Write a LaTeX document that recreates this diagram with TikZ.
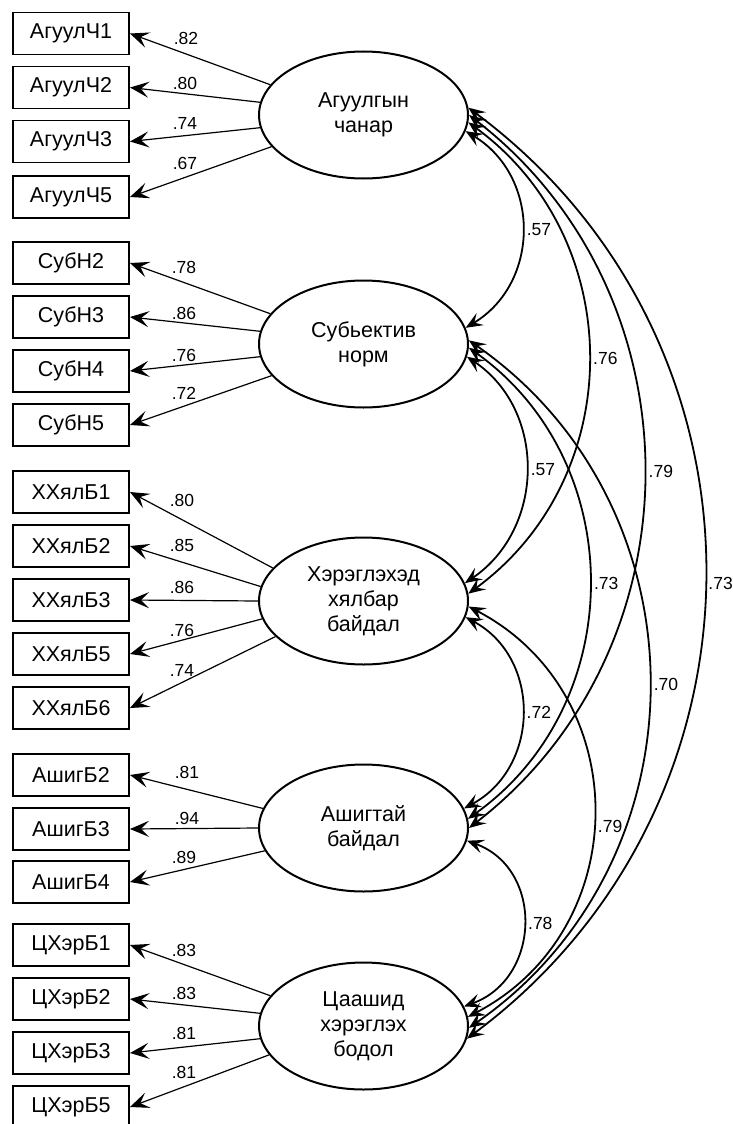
\documentclass[tikz,border=0pt]{standalone}
\usepackage{fontspec}
\setmainfont{Liberation Sans}
\usetikzlibrary{arrows.meta,calc,shapes.geometric}
\begin{document}
\begin{tikzpicture}[x=1pt,y=-1pt,
  obs/.style={draw, line width=1.9pt, minimum width=116pt, minimum height=42pt, inner sep=0pt, font=\fontsize{21.5}{25}\selectfont},
  lat/.style={draw, ellipse, line width=2pt, minimum width=209pt, minimum height=127pt, inner sep=0pt, align=center, font=\fontsize{21.5}{25}\selectfont},
  load/.style={line width=1.2pt, -{Stealth[length=19pt,width=16pt,inset=8pt]}},
  cov/.style={line width=1.8pt, {Stealth[length=17pt,width=14pt,inset=7pt]}-{Stealth[length=17pt,width=14pt,inset=7pt]}},
  lab/.style={font=\fontsize{17.5}{19}\selectfont, inner sep=0pt},
  clab/.style={font=\fontsize{17.5}{19}\selectfont, inner sep=4pt, anchor=west}
]
\fill[white] (0,0) rectangle (732,1124);
\useasboundingbox (0,0) rectangle (732,1124);

% latent variables
\node[lat] (e1) at (363.5,115) {Агуулгын\\чанар};
\node[lat] (e2) at (363.5,344) {Субьектив\\норм};
\node[lat] (e3) at (363.5,601) {Хэрэглэхэд\\хялбар\\байдал};
\node[lat] (e4) at (363.5,828) {Ашигтай\\байдал};
\node[lat] (e5) at (363.5,1026) {Цаашид\\хэрэглэх\\бодол};

% observed variables
\node[obs] (b11) at (71,33.5) {АгуулЧ1};
\node[obs] (b12) at (71,87.5) {АгуулЧ2};
\node[obs] (b13) at (71,141.5) {АгуулЧ3};
\node[obs] (b14) at (71,197) {АгуулЧ5};

\node[obs] (b21) at (71,263) {СубН2};
\node[obs] (b22) at (71,317) {СубН3};
\node[obs] (b23) at (71,371) {СубН4};
\node[obs] (b24) at (71,425) {СубН5};

\node[obs] (b31) at (71,492) {ХХялБ1};
\node[obs] (b32) at (71,546) {ХХялБ2};
\node[obs] (b33) at (71,600) {ХХялБ3};
\node[obs] (b34) at (71,654) {ХХялБ5};
\node[obs] (b35) at (71,708) {ХХялБ6};

\node[obs] (b41) at (71,775) {АшигБ2};
\node[obs] (b42) at (71,829) {АшигБ3};
\node[obs] (b43) at (71,882) {АшигБ4};

\node[obs] (b51) at (71,945) {ЦХэрБ1};
\node[obs] (b52) at (71,999) {ЦХэрБ2};
\node[obs] (b53) at (71,1053) {ЦХэрБ3};
\node[obs] (b54) at (71,1107) {ЦХэрБ5};

% loadings
\draw[load] (e1.162) -- (b11.east);
\draw[load] (e1.173) -- (b12.east);
\draw[load] (e1.187) -- (b13.east);
\draw[load] (e1.199) -- (b14.east);
\node[lab] (l11) at ($(b11.east)+(56,4.5)$) {.82};
\node[lab] (l12) at ($(b12.east)+(55,-4.5)$) {.80};
\node[lab] (l13) at ($(b13.east)+(55,-18.5)$) {.74};
\node[lab] (l14) at ($(b14.east)+(55,-34)$) {.67};

\draw[load] (e2.162) -- (b21.east);
\draw[load] (e2.173) -- (b22.east);
\draw[load] (e2.187) -- (b23.east);
\draw[load] (e2.199) -- (b24.east);
\node[lab] (l21) at ($(b21.east)+(54,4)$) {.78};
\node[lab] (l22) at ($(b22.east)+(54,-4)$) {.86};
\node[lab] (l23) at ($(b23.east)+(54,-16)$) {.76};
\node[lab] (l24) at ($(b24.east)+(54,-32)$) {.72};

\draw[load] (e3.160) -- (b31.east);
\draw[load] (e3.172) -- (b32.east);
\draw[load] (e3.180) -- (b33.east);
\draw[load] (e3.190) -- (b34.east);
\draw[load] (e3.202) -- (b35.east);
\node[lab] (l31) at ($(b31.east)+(52,8)$) {.80};
\node[lab] (l32) at ($(b32.east)+(52,-1)$) {.85};
\node[lab] (l33) at ($(b33.east)+(52,-13)$) {.86};
\node[lab] (l34) at ($(b34.east)+(52,-24)$) {.76};
\node[lab] (l35) at ($(b35.east)+(52,-38)$) {.74};

\draw[load] (e4.169) -- (b41.east);
\draw[load] (e4.180) -- (b42.east);
\draw[load] (e4.193) -- (b43.east);
\node[lab] (l41) at ($(b41.east)+(57,-3)$) {.81};
\node[lab] (l42) at ($(b42.east)+(57,-11)$) {.94};
\node[lab] (l43) at ($(b43.east)+(54,-25)$) {.89};

\draw[load] (e5.162) -- (b51.east);
\draw[load] (e5.173) -- (b52.east);
\draw[load] (e5.187) -- (b53.east);
\draw[load] (e5.197) -- (b54.east);
\node[lab] (l51) at ($(b51.east)+(54,5)$) {.83};
\node[lab] (l52) at ($(b52.east)+(54,-6)$) {.83};
\node[lab] (l53) at ($(b53.east)+(54,-20)$) {.81};
\node[lab] (l54) at ($(b54.east)+(54,-35)$) {.81};

% covariances
\draw[cov] (e1.-9) .. controls +(75,45) and +(75,-45) .. (e2.9) node[clab,pos=.5] {.57};
\draw[cov] (e1.-4) .. controls +(160,117) and +(160,-117) .. (e3.4) node[clab,pos=.5] {.76};
\draw[cov] (e1.0) .. controls +(233,180) and +(233,-180) .. (e4.0) node[clab,pos=.5] {.79};
\draw[cov] (e1.4) .. controls +(316,235) and +(316,-235) .. (e5.-7) node[clab,pos=.51,inner sep=3pt] {.73};
\draw[cov] (e2.-7) .. controls +(80,54) and +(80,-54) .. (e3.10) node[clab,pos=.5] {.57};
\draw[cov] (e2.-2) .. controls +(161,115) and +(161,-115) .. (e4.5) node[clab,pos=.5] {.73};
\draw[cov] (e2.2) .. controls +(240,167) and +(240,-167) .. (e5.-1) node[clab,pos=.5] {.70};
\draw[cov] (e3.-9) .. controls +(76,41) and +(76,-41) .. (e4.11) node[clab,pos=.5] {.72};
\draw[cov] (e3.-3) .. controls +(167,87) and +(167,-87) .. (e5.5) node[clab,pos=.53] {.79};
\draw[cov] (e4.-7) .. controls +(77,28) and +(77,-28) .. (e5.11) node[clab,pos=.5] {.78};
\end{tikzpicture}
\end{document}
